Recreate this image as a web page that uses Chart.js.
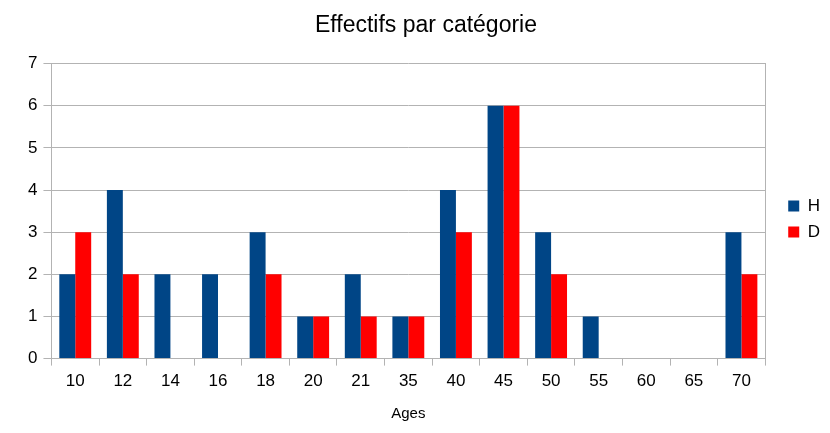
<!DOCTYPE html>
<html>
<head>
<meta charset="utf-8">
<script src="https://cdn.jsdelivr.net/npm/chart.js@4/dist/chart.umd.min.js"></script>
<style>
  html, body { margin: 0; padding: 0; background: #fff; }
  #wrap { width: 830px; height: 433px; }
</style>
</head>
<body>
<div id="wrap"><canvas id="chart_1"></canvas></div>
<script>
// data
var ages = ['10', '12', '14', '16', '18', '20', '21', '35', '40', '45', '50', '55', '60', '65', '70'];
var hommes = [2, 4, 2, 2, 3, 1, 2, 1, 4, 6, 3, 1, 0, 0, 3];
var dames  = [3, 2, 0, 0, 2, 1, 1, 1, 3, 6, 2, 0, 0, 0, 2];
var yTicks = [0, 1, 2, 3, 4, 5, 6, 7];

var gridColor = '#b3b3b3';

function drawChart_1() {
  var ctx_1 = document.getElementById('chart_1').getContext('2d');
  new Chart(ctx_1, {
    type: 'bar',
    data: {
      labels: ages,
      datasets: [{
        label: 'H',
        data: hommes,
        backgroundColor: '#004586',
        borderWidth: 0
      },
      {
        label: 'D',
        data: dames,
        backgroundColor: '#ff0000',
        borderWidth: 0
      }]
    },
    options: {
      responsive: true,
      maintainAspectRatio: false,
      animation: false,
      layout: { padding: { left: 22, right: 0, top: 0, bottom: 10 } },
      categoryPercentage: 0.67,
      barPercentage: 1.0,
      plugins: {
        title: {
          display: true,
          text: 'Effectifs par catégorie',
          color: '#000',
          font: { family: 'Liberation Sans', size: 23, weight: 'normal' },
          padding: { top: 12, bottom: 24 }
        },
        legend: {
          position: 'right',
          // small blank title only to push the items down a bit
          title: { display: true, text: ' ', font: { size: 4 }, padding: 5 },
          labels: {
            color: '#000',
            boxWidth: 11,
            boxHeight: 11,
            padding: 9,
            font: { family: 'Liberation Sans', size: 17 }
          }
        },
        tooltip: { enabled: false }
      },
      scales: {
        x: {
          grid: { offset: true, drawOnChartArea: false, color: gridColor, tickLength: 7 },
          border: { color: gridColor },
          ticks: { color: '#000', padding: 6, font: { family: 'Liberation Sans', size: 17 } },
          title: {
            display: true,
            text: 'Ages',
            color: '#000',
            font: { family: 'Liberation Sans', size: 15 },
            padding: { top: 7, bottom: 0 }
          }
        },
        y: {
          min: 0,
          max: 7,
          afterBuildTicks: function(axis) {
            axis.ticks = yTicks.map(function(v) { return { value: v }; });
          },
          grid: { color: gridColor, tickLength: 8 },
          border: { color: gridColor },
          ticks: { color: '#000', padding: 6, font: { family: 'Liberation Sans', size: 17 } }
        },
        // empty right axis: draws the right frame line and leaves a gap before the legend
        y2: {
          position: 'right',
          min: 0,
          max: 7,
          grid: { drawOnChartArea: false, drawTicks: false },
          border: { color: gridColor },
          ticks: { display: false },
          afterFit: function(axis) { axis.width = 14; }
        }
      }
    }
  });
}

drawChart_1();
</script>
</body>
</html>
